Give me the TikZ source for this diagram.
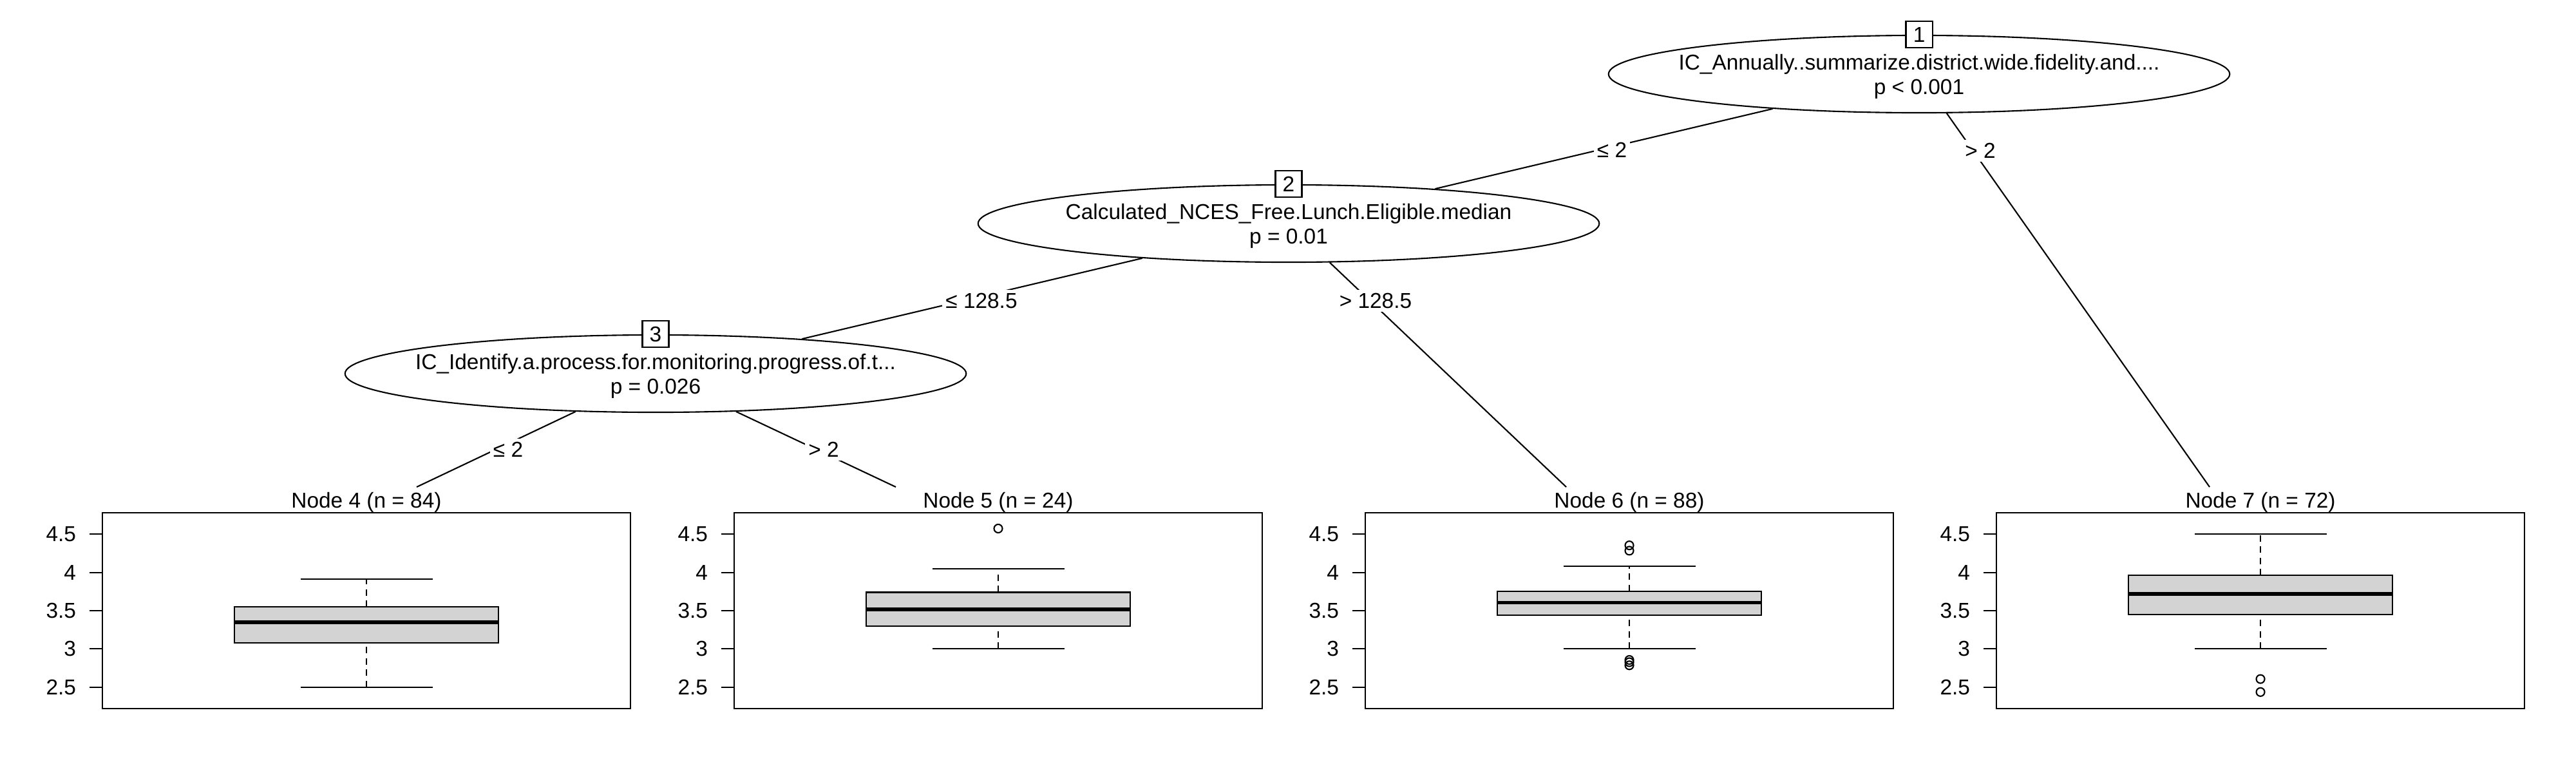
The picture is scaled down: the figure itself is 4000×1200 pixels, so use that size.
\documentclass[tikz,border=0pt]{standalone}
\usepackage{fontspec}
\setmainfont{Liberation Sans}
\usetikzlibrary{shapes.geometric}

\definecolor{boxgray}{gray}{0.827}

\begin{document}
\begin{tikzpicture}[x=0.01cm, y=-0.01cm, line width=0.6pt,
  font=\fontsize{9.5}{10.8}\selectfont,
  split/.style={ellipse, draw, fill=white, minimum width=9.64cm, minimum height=1.2cm, inner sep=0pt},
  idbox/.style={draw, fill=white, minimum size=0.41cm, inner sep=0pt},
  cut/.style={fill=white, inner sep=1.5pt},
  whisk/.style={dash pattern=on 0.1cm off 0.075cm},
  medline/.style={line width=1.7pt}]

  \useasboundingbox (0,0) rectangle (4000,1200);

  % inner nodes
  \node[split] (n1) at (2980,115) {};
  \node[split] (n2) at (2001,347) {};
  \node[split] (n3) at (1018,580) {};
  \node[align=center] (v1) at (2980,119) {IC\_Annually..summarize.district.wide.fidelity.and....\\p < 0.001};
  \node[align=center] (v2) at (2001,351) {Calculated\_NCES\_Free.Lunch.Eligible.median\\p = 0.01};
  \node[align=center] (v3) at (1018,584) {IC\_Identify.a.process.for.monitoring.progress.of.t...\\p = 0.026};
  \node[idbox] (id1) at (n1.north) {1};
  \node[idbox] (id2) at (n2.north) {2};
  \node[idbox] (id3) at (n3.north) {3};

  % tops of the terminal panels
  \coordinate (t4) at (647,756);
  \coordinate (t5) at (1391,756);
  \coordinate (t6) at (2432,756);
  \coordinate (t7) at (3431,756);

  \draw (n1) -- (n2);
  \draw (n1) -- (t7);
  \draw (n2) -- (n3);
  \draw (n2) -- (t6);
  \draw (n3) -- (t4);
  \draw (n3) -- (t5);

  % split labels
  \node[cut] (c12) at (2503,233) {≤ 2};
  \node[cut] (c17) at (3075,234) {> 2};
  \node[cut] (c23) at (1524,467) {≤ 128.5};
  \node[cut] (c26) at (2136,467) {> 128.5};
  \node[cut] (c34) at (789,698) {≤ 2};
  \node[cut] (c35) at (1279,698) {> 2};

  % terminal panels
  \foreach \px/\k/\n/\lo/\qa/\md/\qb/\hi in {159/4/84/2.5/3.08/3.35/3.55/3.91,
      1140/5/24/3.0/3.30/3.52/3.74/4.05, 2120/6/88/3.0/3.44/3.605/3.755/4.08,
      3100/7/72/3.0/3.45/3.72/3.96/4.5}{
    \begin{scope}[shift={(\px,0)}, yshift=-13.625cm, y=1.186cm]
      \draw (0,2.216) rectangle (820,4.784);
      \node[anchor=base] (ttl\k) at (410,4.844) {Node \k{} (n = \n)};
      \foreach \v [count=\i] in {2.5,3,3.5,4,4.5}{
        \draw (-20,\v) -- (0,\v);
        \node[anchor=east, inner sep=0pt] (tk\k-\i) at (-40,\v) {\v};
      }
      \draw[whisk] (410,\lo) -- (410,\qa) (410,\qb) -- (410,\hi);
      \draw (307.5,\lo) -- (512.5,\lo) (307.5,\hi) -- (512.5,\hi);
      \draw[fill=boxgray] (205,\qa) rectangle (615,\qb);
      \draw[medline] (205,\md) -- (615,\md);
    \end{scope}
  }

  % outliers
  \draw (1550,820.5) circle[radius=0.065cm];
  \draw (2530,846.6) circle[radius=0.065cm];
  \draw (2530,854.9) circle[radius=0.065cm];
  \draw (2530,1024.5) circle[radius=0.065cm];
  \draw (2530,1028.0) circle[radius=0.065cm];
  \draw (2530,1032.8) circle[radius=0.065cm];
  \draw (3510,1054.1) circle[radius=0.065cm];
  \draw (3510,1074.3) circle[radius=0.065cm];

\end{tikzpicture}
\end{document}
